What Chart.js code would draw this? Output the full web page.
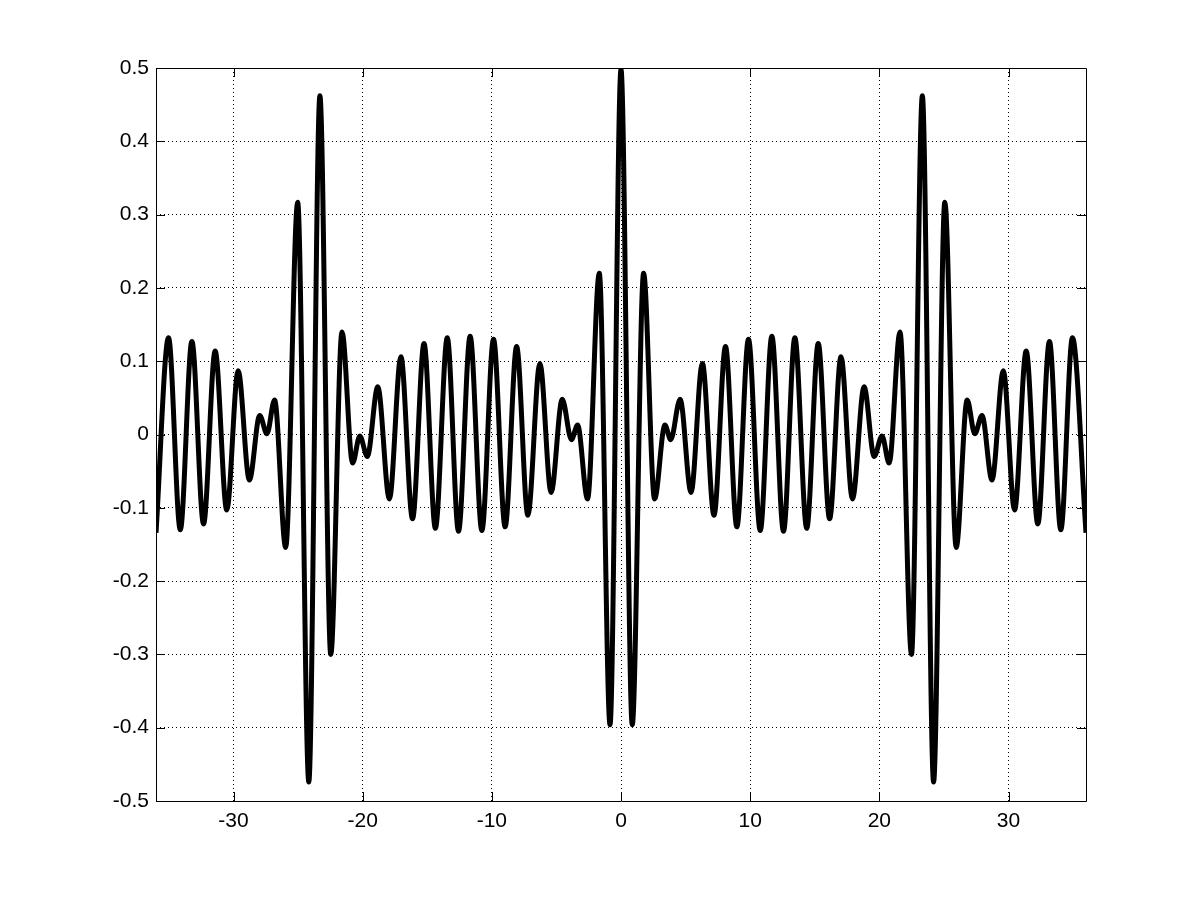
<!DOCTYPE html>
<html>
<head>
<meta charset="utf-8">
<script src="https://cdn.jsdelivr.net/npm/chart.js@4"></script>
<style>
  html, body { margin: 0; padding: 0; background: #fff; }
  #wrap { width: 1200px; height: 900px; }
</style>
</head>
<body>
<div id="wrap"><canvas id="grafico" width="1200" height="900"></canvas></div>
<script>
// extremos de la señal (x, y)
const xs = [
  -36, -35.03, -34.12, -33.22, -32.32, -31.42, -30.52, -29.64, -28.77, -27.97,
  -27.41, -26.82, -25.96, -25.03, -24.17, -23.31, -22.47, -21.6, -20.78, -20.22,
  -19.64, -18.83, -17.93, -17.04, -16.14, -15.25, -14.37, -13.45, -12.58, -11.68,
  -10.77, -9.87, -8.97, -8.08, -7.21, -6.28, -5.41, -4.55, -3.84, -3.36,
  -2.59, -1.68, -0.85, 0,
  0.87, 1.75, 2.6, 3.4, 3.85, 4.58, 5.42, 6.3, 7.2, 8.09,
  8.97, 9.87, 10.78, 11.68, 12.58, 13.46, 14.38, 15.27, 16.15, 17.03,
  17.92, 18.82, 19.6, 20.21, 20.76, 21.6, 22.49, 23.33, 24.2, 25.07,
  25.95, 26.8, 27.39, 27.95, 28.72, 29.6, 30.47, 31.37, 32.27, 33.17,
  34.05, 34.95, 36
];
const ys = [
  -0.134, 0.132, -0.130, 0.127, -0.122, 0.114, -0.103, 0.087, -0.062, 0.026,
  0.001, 0.047, -0.154, 0.317, -0.474, 0.462, -0.300, 0.140, -0.039, -0.002,
  -0.030, 0.065, -0.088, 0.106, -0.115, 0.124, -0.128, 0.132, -0.132, 0.134,
  -0.131, 0.130, -0.126, 0.120, -0.110, 0.097, -0.079, 0.048, -0.007, 0.013,
  -0.088, 0.220, -0.396, 0.498,
  -0.396, 0.220, -0.088, 0.013, -0.007, 0.048, -0.079, 0.097, -0.110, 0.120,
  -0.126, 0.130, -0.131, 0.134, -0.132, 0.132, -0.128, 0.124, -0.115, 0.106,
  -0.088, 0.065, -0.030, -0.002, -0.039, 0.140, -0.300, 0.462, -0.474, 0.317,
  -0.154, 0.047, 0.001, 0.026, -0.062, 0.087, -0.103, 0.114, -0.122, 0.127,
  -0.130, 0.132, -0.134
];
const xTicks = [-30, -20, -10, 0, 10, 20, 30];
const yTicks = [-0.5, -0.4, -0.3, -0.2, -0.1, 0, 0.1, 0.2, 0.3, 0.4, 0.5];

const fuente = { family: "'Liberation Sans', Arial, sans-serif", size: 21 };

// marco negro y marcas hacia adentro, como en MATLAB
const marco = {
  id: "marco",
  afterDraw(chart) {
    const { ctx, chartArea: a, scales } = chart;
    const L = 9;
    ctx.save();
    ctx.strokeStyle = "#000";
    ctx.lineWidth = 1;
    ctx.beginPath();
    ctx.rect(Math.round(a.left) + 0.5, Math.round(a.top) + 0.5,
      Math.round(a.right - a.left), Math.round(a.bottom - a.top));
    xTicks.forEach(v => {
      const px = Math.round(scales.x.getPixelForValue(v)) + 0.5;
      ctx.moveTo(px, a.bottom); ctx.lineTo(px, a.bottom - L);
      ctx.moveTo(px, a.top); ctx.lineTo(px, a.top + L);
    });
    yTicks.forEach(v => {
      const py = Math.round(scales.y.getPixelForValue(v)) + 0.5;
      ctx.moveTo(a.left, py); ctx.lineTo(a.left + L, py);
      ctx.moveTo(a.right, py); ctx.lineTo(a.right - L, py);
    });
    ctx.stroke();
    ctx.restore();
  }
};

const ctx = document.getElementById("grafico").getContext("2d");
new Chart(ctx, {
  type: "line",
  data: {
    datasets: [{
      data: xs.map((x, i) => ({ x: x, y: ys[i] })),
      borderColor: "#000",
      borderWidth: 5,
      pointRadius: 0,
      fill: false,
      cubicInterpolationMode: "monotone"
    }]
  },
  options: {
    responsive: false,
    animation: false,
    layout: { padding: { top: 68, right: 114, left: 0, bottom: 0 } },
    plugins: { legend: { display: false }, tooltip: { enabled: false } },
    scales: {
      x: {
        type: "linear",
        min: -36,
        max: 36,
        afterBuildTicks: s => { s.ticks = xTicks.map(v => ({ value: v })); },
        afterFit: s => { s.height = 99; },
        grid: { color: "#000", lineWidth: 1, drawTicks: false },
        border: { display: false, dash: [1, 3] },
        ticks: { color: "#000", font: fuente, padding: 8, maxRotation: 0, callback: v => String(v) }
      },
      y: {
        min: -0.5,
        max: 0.5,
        afterBuildTicks: s => { s.ticks = yTicks.map(v => ({ value: v })); },
        afterFit: s => { s.width = 156; },
        grid: { color: "#000", lineWidth: 1, drawTicks: false },
        border: { display: false, dash: [1, 3] },
        ticks: { color: "#000", font: fuente, padding: 7, callback: v => String(v) }
      }
    }
  },
  plugins: [marco]
});
</script>
</body>
</html>
